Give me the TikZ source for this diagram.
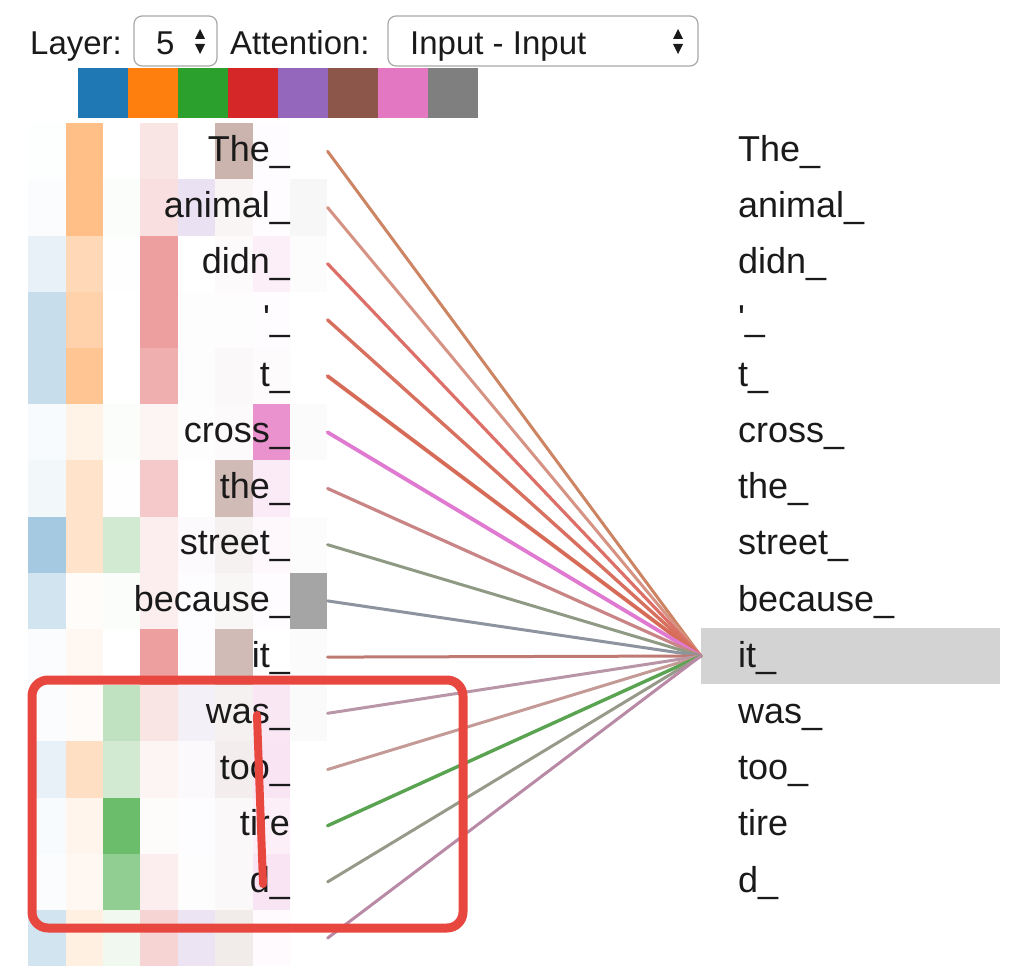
\documentclass[tikz,border=0pt]{standalone}
\usepackage{fontspec}
\setmainfont{Liberation Sans}
\usetikzlibrary{positioning}

% head colours
\definecolor{hd0}{HTML}{1F77B4}
\definecolor{hd1}{HTML}{FF7F0E}
\definecolor{hd2}{HTML}{2CA02C}
\definecolor{hd3}{HTML}{D62728}
\definecolor{hd4}{HTML}{9467BD}
\definecolor{hd5}{HTML}{8C564B}
\definecolor{hd6}{HTML}{E377C2}
\definecolor{hd7}{HTML}{7F7F7F}
% attention line colours
\definecolor{ln0}{HTML}{CC8462}
\definecolor{ln1}{HTML}{D69384}
\definecolor{ln2}{HTML}{DC7068}
\definecolor{ln3}{HTML}{D8705F}
\definecolor{ln4}{HTML}{D66C58}
\definecolor{ln5}{HTML}{E07AD0}
\definecolor{ln6}{HTML}{C98585}
\definecolor{ln7}{HTML}{8F9A84}
\definecolor{ln8}{HTML}{8D939F}
\definecolor{ln9}{HTML}{C07A74}
\definecolor{ln10}{HTML}{B896A8}
\definecolor{ln11}{HTML}{C49A96}
\definecolor{ln12}{HTML}{5AA350}
\definecolor{ln13}{HTML}{979A88}
\definecolor{ln14}{HTML}{B88AA6}
\definecolor{txt}{HTML}{1A1A1A}
\definecolor{hlgray}{HTML}{D3D3D3}
\definecolor{selgray}{HTML}{A8A8A8}
\definecolor{marker}{HTML}{E8473F}

\begin{document}
\begin{tikzpicture}[x=1pt, y=-1pt, every node/.style={inner sep=0pt}]
        % Define styles
        \tikzstyle{cell} = [rectangle, minimum width=37.4pt, minimum height=56.2pt, anchor=north west]
        \tikzstyle{ltok} = [text width=180pt, align=right, text height=27pt, text depth=8pt,
                            font=\fontsize{36}{40}\selectfont, text=txt]
        \tikzstyle{rtok} = [text width=250pt, align=left, text height=27pt, text depth=8pt,
                            font=\fontsize{36}{40}\selectfont, text=txt]
        \tikzstyle{head} = [anchor=base west, font=\fontsize{33}{38}\selectfont, text=txt]
        \tikzstyle{select} = [rectangle, draw=selgray, line width=1.2pt, rounded corners=8pt, minimum height=50pt]
        \tikzstyle{attn} = [line cap=round]
        \tikzstyle{redpen} = [draw=marker, line cap=round, line join=round]

        \useasboundingbox (0,0) rectangle (1016,968);

        % Header
        \node (layer) [head] at (30,55) {Layer:};
        \node (layersel) [select, minimum width=83pt] at (175.5,41) {};
        \node (layernum) [head] at (156,55) {5};
        \node (attention) [head] at (230,55) {Attention:};
        \node (attnsel) [select, minimum width=310pt] at (543,41) {};
        \node (attnval) [head] at (410,55) {Input - Input};
        \foreach \ax in {200,678} {
            \fill [txt] (\ax-5,39) -- (\ax+5,39) -- (\ax,29) -- cycle;
            \fill [txt] (\ax-5,44) -- (\ax+5,44) -- (\ax,54) -- cycle;
        }

        % Head legend
        \foreach \i in {0,...,7}
            \node (leg\i) [cell, minimum width=50pt, minimum height=50pt, fill=hd\i] at (78+50*\i,68) {};

        % Heat map of the left tokens
        \foreach \row [count=\r from 0] in {
            {1,50,0,12,0,45,2,0}, {2,50,2,15,20,6,2,6}, {10,30,1,45,0,3,12,2},
            {25,35,0,45,1,1,2,0}, {25,45,0,37,1,4,3,0}, {3,10,2,5,1,3,80,3},
            {6,22,1,25,0,40,15,0}, {40,22,22,8,3,8,5,2}, {20,2,2,8,2,5,2,70},
            {2,6,0,45,2,40,0,3}, {2,3,30,12,10,8,18,4}, {10,25,22,5,4,10,20,0},
            {3,8,70,2,2,4,12,0}, {2,6,52,8,1,4,20,0}, {20,12,7,20,18,12,4,0}}
            \foreach \v [count=\c from 0] in \row
                \node (c\r-\c) [cell, fill=hd\c!\v!white] at (28+37.4*\c,123+56.2*\r) {};

        % Selected token
        \node (hl) [rectangle, fill=hlgray, minimum width=299pt, minimum height=56pt] at (850.5,656) {};

        % Attention lines
        \foreach \col/\wd [count=\i from 0] in {ln0/3, ln1/3, ln2/3.2, ln3/3.4, ln4/3.8, ln5/3.8, ln6/3.2,
                ln7/3, ln8/3, ln9/3, ln10/3, ln11/3, ln12/3.4, ln13/3, ln14/3}
            \draw [attn, draw=\col, line width=\wd pt] (c\i-7.east) -- (hl.west);

        % Tokens
        \foreach \w [count=\i from 0] in {The\_, animal\_, didn\_, \textquotesingle\_, t\_, cross\_, the\_,
                street\_, because\_, it\_, was\_, too\_, tire, d\_} {
            \node (l\i) [ltok] at (200,152+56.2*\i) {\w};
            \node (r\i) [rtok] at (863,152+56.2*\i) {\w};
        }

        % Hand-drawn marks
        \draw [redpen, line width=9pt, rounded corners=16pt] (32,680) rectangle (463,928);
        \draw [redpen, line width=8pt] (257,715) -- (263,884);
    \end{tikzpicture}
\end{document}
